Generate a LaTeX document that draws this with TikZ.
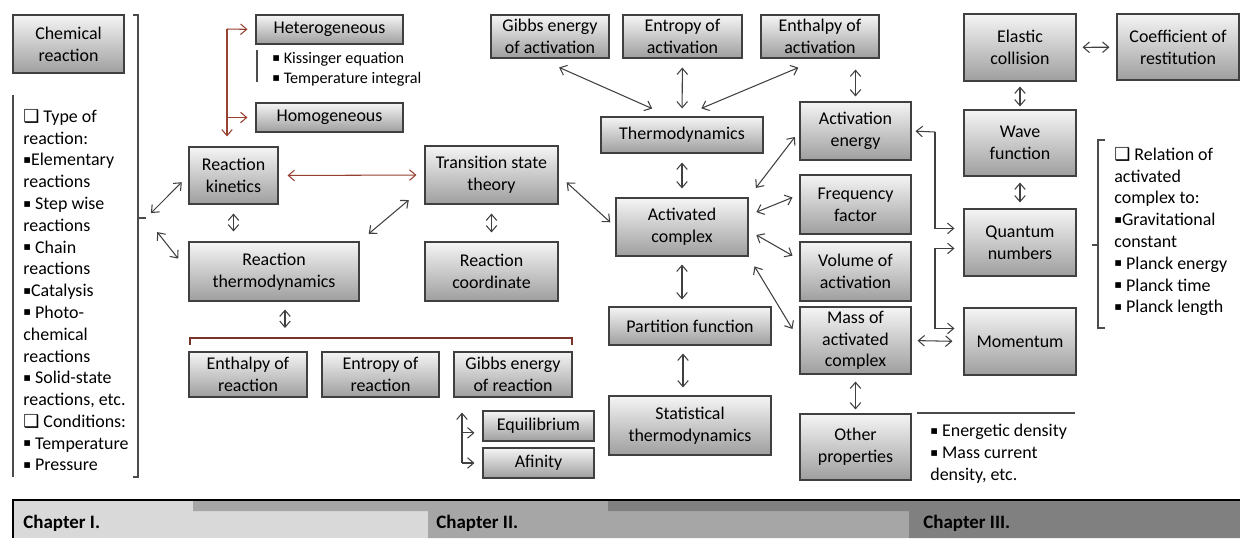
\documentclass[tikz,border=0pt]{standalone}
\usepackage{fontspec}
\setmainfont{Carlito}
\newfontfamily\dejavu{DejaVu Sans}
\usepackage{tikz}
\usetikzlibrary{
    calc,
    arrows.meta
}
\definecolor{boxedge}{RGB}{230,165,140}
\definecolor{arrowred}{RGB}{150,65,50}
\newcommand{\bul}{\raisebox{0.14em}{\dejavu\fontsize{6.5}{6.5}\selectfont ▪}}
\newcommand{\qbox}{{\dejavu ❑}}
\tikzset{
    box/.style 2 args={draw=black!75, line width=0.6pt, top color=black!4, bottom color=black!38,
        minimum width=#1*0.02cm, minimum height=#2*0.02cm, inner sep=0pt, align=center,
        preaction={draw=boxedge, line width=1.6pt}},
    line/.style={draw=black!75, line width=0.6pt},
    arr/.style={line, <->},
    tip/.style={line, ->},
    redtip/.style={tip, draw=arrowred},
    bracket/.style={draw=black!70, line width=0.6pt},
    note/.style={anchor=north west, align=left, inner sep=0pt},
    chap/.style={anchor=west, inner sep=0pt, font=\bfseries\fontsize{10.8}{12}\selectfont}
}

\begin{document}
\begin{tikzpicture}[x=0.02cm, y=-0.02cm, font=\fontsize{10.2}{12.4}\selectfont,
    >={Straight Barb[length=3.5pt,width=6pt]}]
    \useasboundingbox (0,0) rectangle (1240,538);

    % chapter bar
    \fill[black!15] (13,500) rectangle (428,538);
    \fill[black!35] (193,500) -- (909,500) -- (909,538) -- (428,538) -- (428,511) -- (193,511) -- cycle;
    \fill[black!50] (608,500) -- (1240,500) -- (1240,538) -- (909,538) -- (909,511) -- (608,511) -- cycle;
    \draw[line width=0.8pt] (13,538) -- (13,500) -- (1240,500);
    \node[chap] (ch1) at (23,523) {Chapter I.};
    \node[chap] (ch2) at (436,523) {Chapter II.};
    \node[chap] (ch3) at (923,523) {Chapter III.};

    \node[box={111}{58}] (chem) at (68.5,44) {Chemical\\reaction};
    \node[box={147}{29}] (het) at (329.5,29.5) {Heterogeneous};
    \node[box={147}{29}] (hom) at (329.5,117.5) {Homogeneous};
    \node[box={89}{57}] (kin) at (233.5,175.5) {Reaction\\kinetics};
    \node[box={170}{59}] (rthermo) at (274,271.5) {Reaction\\thermodynamics};
    \node[box={133}{58}] (tst) at (491.5,175) {Transition state\\theory};
    \node[box={133}{59}] (rcoord) at (491.5,271.5) {Reaction\\coordinate};
    \node[box={118}{45}] (hreac) at (248,374.5) {Enthalpy of\\reaction};
    \node[box={117}{45}] (sreac) at (380.5,374.5) {Entropy of\\reaction};
    \node[box={118}{45}] (greac) at (513,374.5) {Gibbs energy\\of reaction};
    \node[box={111}{30}] (equil) at (538.5,426) {Equilibrium};
    \node[box={111}{30}] (afin) at (538.5,463) {Afinity};
    \node[box={118}{43}] (gact) at (550,36.5) {Gibbs energy\\of activation};
    \node[box={119}{43}] (sact) at (682.5,36.5) {Entropy of\\activation};
    \node[box={118}{43}] (hact) at (820,36.5) {Enthalpy of\\activation};
    \node[box={162}{36}] (thermo) at (682,135) {Thermodynamics};
    \node[box={132}{58}] (actc) at (682,227) {Activated\\complex};
    \node[box={162}{38}] (part) at (690,326) {Partition function};
    \node[box={162}{59}] (stat) at (690,425.5) {Statistical\\thermodynamics};
    \node[box={111}{58}] (aen) at (855.5,131) {Activation\\energy};
    \node[box={111}{59}] (freq) at (855.5,204.5) {Frequency\\factor};
    \node[box={111}{59}] (vol) at (855.5,271.5) {Volume of\\activation};
    \node[box={111}{67}] (mass) at (855.5,340.5) {Mass of\\activated\\complex};
    \node[box={111}{66}] (other) at (855.5,447) {Other\\properties};
    \node[box={112}{67}] (elastic) at (1020,47.5) {Elastic\\collision};
    \node[box={122}{66}] (coef) at (1178,47) {Coefficient of\\restitution};
    \node[box={112}{66}] (wave) at (1020,143) {Wave\\function};
    \node[box={112}{67}] (quant) at (1020,242.5) {Quantum\\numbers};
    \node[box={112}{67}] (mom) at (1020,341.5) {Momentum};

    % lists and brackets
    \node[note] (types) at (23,109) {\qbox{} Type of\\reaction:\\\bul Elementary\\reactions\\\bul{} Step wise\\reactions\\\bul{} Chain\\reactions\\\bul Catalysis\\\bul{} Photo-\\chemical\\reactions\\\bul{} Solid-state\\reactions, etc.\\\qbox{} Conditions:\\\bul{} Temperature\\\bul{} Pressure};
    \node[note, font=\fontsize{9.2}{11.3}\selectfont] (kiss) at (272,52) {\bul{} Kissinger equation\\\bul{} Temperature integral};
    \node[note] (relation) at (1114,147) {\qbox{} Relation of\\activated\\complex to:\\\bul Gravitational\\constant\\\bul{} Planck energy\\\bul{} Planck time\\\bul{} Planck length};
    \node[note] (olist) at (930,424) {\bul{} Energetic density\\\bul{} Mass current\\density, etc.};

    \draw[bracket] (133,15) -- (138,15) -- (138,477) -- (133,477);
    \draw[bracket] (138,218) -- (146,218) coordinate (tick);
    \draw[bracket] (13,95) -- (13,477);
    \draw[bracket] (257,50) -- (257,82);
    \draw[bracket] (1105,140) -- (1098,140) -- (1098,328) -- (1105,328);
    \draw[bracket] (1098,245) -- (1092,245);
    \draw[bracket] (917,413) -- (1075,413);
    \draw[bracket, draw=arrowred!80!black] (190,345) -- (190,338) -- (572,338) -- (572,345);
    \coordinate (rbr) at (285,338);

    % connectors
    \draw[arr, shorten <=0.14cm, shorten >=0.19cm] (tick) -- (kin.west);
    \draw[arr, shorten <=0.36cm, shorten >=0.33cm] (tick) -- (rthermo.west);
    \draw[arr, draw=arrowred, shorten <=0.18cm, shorten >=0.16cm] (kin.east) -- (tst.west);
    \draw[arr, shorten <=0.18cm, shorten >=0.2cm] (kin.south) -- (kin.south |- rthermo.north);
    \draw[arr, shorten <=0.18cm, shorten >=0.18cm] (tst) -- (rcoord);
    \draw[arr, shorten <=0.41cm, shorten >=0.24cm] (tst.190) -- (rthermo.north east);
    \draw[arr, shorten <=0.22cm, shorten >=0.14cm] (tst.east) -- (actc.west);
    \draw[arr, shorten <=0.16cm, shorten >=0.2cm] (rthermo.south -| rbr) -- (rbr);

    \draw[arr, shorten <=0.44cm, shorten >=0.39cm] ([xshift=-0.22cm]gact.south) -- ([xshift=-0.24cm]thermo.north);
    \draw[arr, shorten <=0.18cm, shorten >=0.16cm] (sact) -- (thermo);
    \draw[arr, shorten <=0.47cm, shorten >=0.42cm] (hact.south) -- (thermo.north);
    \draw[arr, shorten <=0.18cm, shorten >=0.18cm] (thermo) -- (actc);
    \draw[arr, shorten <=0.24cm, shorten >=0.15cm] (actc.north east) -- (aen.west);
    \draw[arr, shorten <=0.17cm, shorten >=0.15cm] (actc.10) -- (freq.170);
    \draw[arr, shorten <=0.18cm, shorten >=0.16cm] (actc.-3) -- (vol.168);
    \draw[arr, shorten <=0.23cm, shorten >=0.27cm] (actc.south east) -- (mass.west);
    \draw[arr, shorten <=0.16cm, shorten >=0.14cm] (actc.south) -- (actc.south |- part.north);
    \draw[arr, shorten <=0.16cm, shorten >=0.16cm] ([xshift=-0.14cm]part.south) -- ([xshift=-0.14cm]stat.north);
    \draw[arr, shorten <=0.22cm, shorten >=0.1cm] (hact.south -| aen.north) -- (aen.north);
    \draw[arr, shorten <=0.14cm, shorten >=0.08cm] (mass) -- (other);
    \draw[arr, shorten <=0.12cm, shorten >=0.22cm] (mass.east) -- (mom.west);
    \draw[arr, shorten <=0.12cm, shorten >=0.14cm] (elastic) -- (coef);
    \draw[arr, shorten <=0.1cm, shorten >=0.06cm] (elastic) -- (wave);
    \draw[arr, shorten <=0.12cm, shorten >=0.12cm] (wave) -- (quant);

    \coordinate (qtop) at (935,132);
    \draw[tip, shorten >=0.08cm] (qtop) -- (aen.east);
    \draw[tip, shorten >=0.18cm] (qtop) |- (quant.166);
    \coordinate (qbot) at (935,290);
    \draw[arr, shorten <=0.18cm, shorten >=0.18cm] (quant.186) -| (qbot) |- (mom.167);

    \coordinate (htop) at (227,29);
    \draw[redtip, shorten >=0.16cm] (htop) -- (het.west);
    \draw[redtip, shorten >=0.2cm] (htop) -- (htop |- kin.north);
    \draw[redtip, shorten >=0.16cm] (htop |- hom.west) -- (hom.west);

    \coordinate (gtr) at (462,463);
    \draw[tip, shorten >=0.3cm] (gtr) -- (gtr |- greac.south);
    \draw[tip, shorten >=0.16cm] (gtr |- equil.187) -- (equil.187);
    \draw[tip, shorten >=0.16cm] (gtr) -- (afin.west);
\end{tikzpicture}
\end{document}
